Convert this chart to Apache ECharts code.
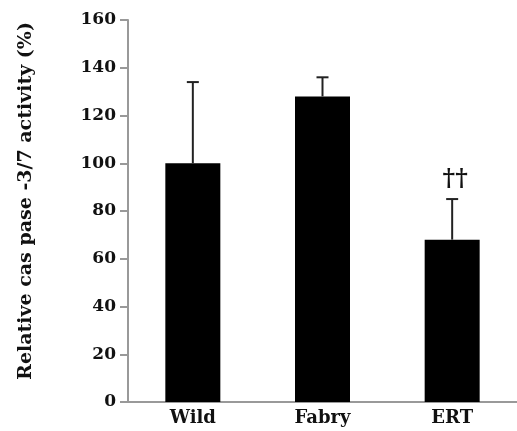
<!DOCTYPE html>
<html>
<head>
<meta charset="utf-8">
<script src="https://cdn.jsdelivr.net/npm/echarts@6/dist/echarts.min.js"></script>
<style>
  html, body { margin: 0; padding: 0; background: #fff; }
  #chart { width: 517px; height: 431px; }
</style>
</head>
<body>
<div id="chart"></div>
<script>
// data
const groups = ['Wild', 'Fabry', 'ERT'];
const means = [100, 128, 68];
const upperErr = [134, 136, 85];
const marks = ['', '', '††'];
const yTicks = [0, 20, 40, 60, 80, 100, 120, 140, 160];

const serif = '"DejaVu Serif", "Liberation Serif", serif';
const chart = echarts.init(document.getElementById('chart'));

chart.setOption({
  animation: false,
  backgroundColor: '#fff',
  grid: { left: 128, right: 0, top: 20, bottom: 29 },
  xAxis: {
    type: 'category',
    data: groups,
    axisLine: { lineStyle: { color: '#999', width: 2 } },
    axisTick: { show: false },
    axisLabel: { color: '#111', fontFamily: serif, fontWeight: 'bold', fontSize: 18, margin: 7 }
  },
  yAxis: {
    type: 'value',
    min: yTicks[0],
    max: yTicks[yTicks.length - 1],
    interval: 20,
    name: 'Relative cas pase -3/7 activity (%)',
    nameLocation: 'middle',
    nameRotate: 90,
    nameGap: 92,
    nameTextStyle: { color: '#111', fontFamily: serif, fontWeight: 'bold', fontSize: 19, padding: [0, 0, 0, 20] },
    axisLine: { show: true, lineStyle: { color: '#999', width: 2 } },
    axisTick: { show: true, length: 8, lineStyle: { color: '#999', width: 2 } },
    splitLine: { show: false },
    axisLabel: { color: '#111', fontFamily: serif, fontWeight: 'bold', fontSize: 17, margin: 12 }
  },
  series: [
    {
      type: 'bar',
      data: means,
      barWidth: 55,
      itemStyle: { color: '#000' },
      z: 2
    },
    {
      type: 'custom',
      z: 3,
      data: groups.map((g, i) => [i, means[i], upperErr[i]]),
      renderItem: function (params, api) {
        const i = api.value(0);
        const base = api.coord([i, api.value(1)]);
        const top = api.coord([i, api.value(2)]);
        const half = 6;
        const children = [
          { type: 'line', shape: { x1: base[0], y1: base[1], x2: top[0], y2: top[1] },
            style: { stroke: '#222', lineWidth: 2 } },
          { type: 'line', shape: { x1: top[0] - half, y1: top[1], x2: top[0] + half, y2: top[1] },
            style: { stroke: '#222', lineWidth: 2 } }
        ];
        if (marks[i]) {
          children.push({
            type: 'text',
            style: {
              text: marks[i], x: top[0] + 3, y: top[1] - 7,
              align: 'center', verticalAlign: 'bottom',
              font: 'bold 24px ' + serif, fill: '#111'
            }
          });
        }
        return { type: 'group', children: children };
      }
    }
  ]
});
</script>
</body>
</html>
